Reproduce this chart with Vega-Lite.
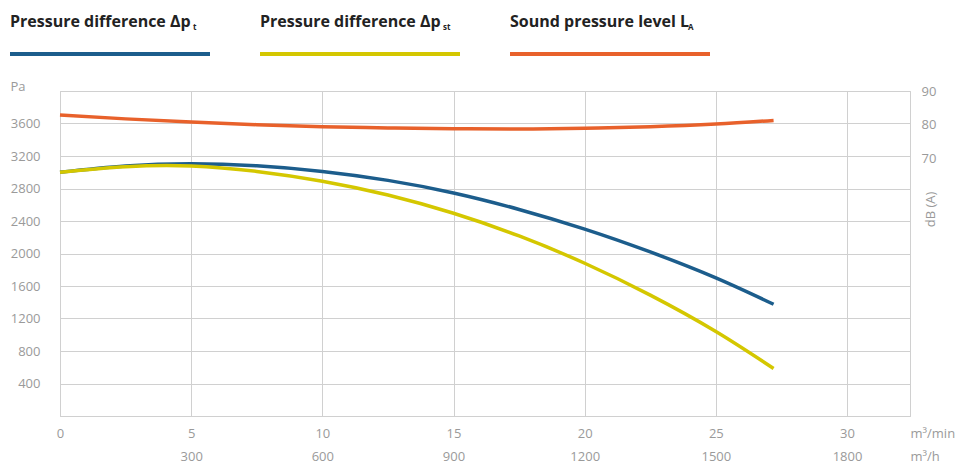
{
  "$schema": "https://vega.github.io/schema/vega-lite/v6.json",
  "width": 850,
  "height": 325,
  "autosize": {"type": "none"},
  "padding": {"left": 60, "top": 91, "right": 46, "bottom": 47},
  "background": "white",
  "config": {
    "font": "Open Sans",
    "view": {"stroke": "#d0d0d0", "strokeWidth": 1},
    "axis": {
      "labelFont": "Open Sans",
      "labelFontSize": 13,
      "labelColor": "#9a9a9a",
      "titleFont": "Open Sans",
      "titleFontSize": 13,
      "titleFontWeight": "normal",
      "titleColor": "#9a9a9a",
      "gridColor": "#d0d0d0",
      "gridWidth": 1,
      "domainColor": "#d0d0d0",
      "ticks": false
    }
  },
  "datasets": {
    "curves": [
      {"q": 0, "pa": 3000, "series": "dpt"},
      {"q": 2.5, "pa": 3077, "series": "dpt"},
      {"q": 5, "pa": 3105, "series": "dpt"},
      {"q": 7.5, "pa": 3079, "series": "dpt"},
      {"q": 10, "pa": 3010, "series": "dpt"},
      {"q": 12.5, "pa": 2900, "series": "dpt"},
      {"q": 15, "pa": 2745, "series": "dpt"},
      {"q": 17.5, "pa": 2542, "series": "dpt"},
      {"q": 20, "pa": 2300, "series": "dpt"},
      {"q": 22.5, "pa": 2019, "series": "dpt"},
      {"q": 25, "pa": 1700, "series": "dpt"},
      {"q": 27.2, "pa": 1375, "series": "dpt"},
      {"q": 0, "pa": 3000, "series": "dpst"},
      {"q": 2.5, "pa": 3068, "series": "dpst"},
      {"q": 5, "pa": 3077, "series": "dpst"},
      {"q": 7.5, "pa": 3010, "series": "dpst"},
      {"q": 10, "pa": 2890, "series": "dpst"},
      {"q": 12.5, "pa": 2720, "series": "dpst"},
      {"q": 15, "pa": 2495, "series": "dpst"},
      {"q": 17.5, "pa": 2216, "series": "dpst"},
      {"q": 20, "pa": 1880, "series": "dpst"},
      {"q": 22.5, "pa": 1488, "series": "dpst"},
      {"q": 25, "pa": 1040, "series": "dpst"},
      {"q": 27.2, "pa": 585, "series": "dpst"}
    ],
    "sound": [
      {"q": 0, "db": 82.94, "series": "la"},
      {"q": 2.5, "db": 81.8, "series": "la"},
      {"q": 5, "db": 80.85, "series": "la"},
      {"q": 7.5, "db": 80.1, "series": "la"},
      {"q": 10, "db": 79.52, "series": "la"},
      {"q": 12.5, "db": 79.12, "series": "la"},
      {"q": 15, "db": 78.9, "series": "la"},
      {"q": 17.5, "db": 78.84, "series": "la"},
      {"q": 20, "db": 79.02, "series": "la"},
      {"q": 22.5, "db": 79.5, "series": "la"},
      {"q": 25, "db": 80.3, "series": "la"},
      {"q": 27.2, "db": 81.35, "series": "la"}
    ],
    "legend": [
      {"series": "dpt", "label": "Pressure difference Δp", "sub": "t"},
      {"series": "dpst", "label": "Pressure difference Δp", "sub": "st"},
      {"series": "la", "label": "Sound pressure level L", "sub": "A"}
    ]
  },
  "layer": [
    {
      "layer": [
        {
          "data": {"name": "curves"},
          "mark": {"type": "line", "interpolate": "natural", "strokeWidth": 3.5, "strokeCap": "butt"},
          "encoding": {
            "x": {
              "field": "q", "type": "quantitative",
              "scale": {"domain": [0, 32.4], "nice": false, "zero": false},
              "axis": {
                "title": null,
                "values": [0, 5, 10, 15, 20, 25, 30, 32.4],
                "grid": true,
                "domain": true,
                "labelFlush": false,
                "labelOverlap": false,
                "labelBound": false,
                "labelPadding": 11,
                "labelLineHeight": 23,
                "labelBaseline": "top",
                "labelAlign": {"condition": {"test": "datum.value > 32", "value": "left"}, "value": "center"},
                "labelExpr": "datum.value > 32 ? ['m³/min', 'm³/h'] : (datum.value == 0 ? ['0', ''] : [datum.label, format(datum.value * 60, 'd')])"
              }
            },
            "y": {
              "field": "pa", "type": "quantitative",
              "scale": {"domain": [0, 4000], "nice": false},
              "axis": {
                "orient": "left",
                "values": [0, 400, 800, 1200, 1600, 2000, 2400, 2800, 3200, 3600, 4000],
                "grid": true,
                "domain": true,
                "format": "d",
                "labelPadding": 20,
                "labelExpr": "(datum.value == 0 || datum.value == 4000) ? '' : datum.label",
                "title": "Pa",
                "titleAngle": 0,
                "titleAlign": "left",
                "titleBaseline": "middle",
                "titleX": -50,
                "titleY": -5
              }
            },
            "color": {
              "field": "series", "type": "nominal",
              "scale": {"domain": ["dpt", "dpst", "la"], "range": ["#1c5d8c", "#d4c700", "#e8612b"]},
              "legend": null
            }
          }
        },
        {
          "data": {"name": "sound"},
          "mark": {"type": "line", "interpolate": "natural", "strokeWidth": 3.5, "strokeCap": "butt"},
          "encoding": {
            "x": {"field": "q", "type": "quantitative"},
            "y": {
              "field": "db", "type": "quantitative",
              "scale": {"domain": [-5.6, 90], "nice": false, "zero": false},
              "axis": {
                "orient": "right",
                "values": [70, 80, 90],
                "grid": false,
                "domain": false,
                "labelPadding": 11,
                "title": "dB (A)",
                "titleAngle": 270,
                "titleAlign": "center",
                "titleBaseline": "middle",
                "titleX": 20,
                "titleY": 118
              }
            },
            "color": {"field": "series", "type": "nominal", "legend": null}
          }
        }
      ],
      "resolve": {"scale": {"y": "independent"}}
    },
    {
      "data": {"name": "legend"},
      "layer": [
        {
          "mark": {"type": "text", "align": "left", "baseline": "alphabetic", "font": "Open Sans", "fontSize": 16, "fontWeight": "bold", "color": "#222222"},
          "encoding": {
            "x": {
              "field": "series", "type": "nominal", "bandPosition": 0,
              "scale": {"type": "band", "domain": ["dpt", "dpst", "la"], "range": [-50, 700], "paddingInner": 0, "paddingOuter": 0},
              "axis": null
            },
            "y": {
              "datum": "label", "type": "nominal",
              "scale": {"type": "point", "domain": ["label", "line"], "range": [-64, -37], "padding": 0},
              "axis": null
            },
            "text": {"field": "label"}
          }
        },
        {
          "transform": [{"filter": "datum.series != 'la'"}],
          "mark": {"type": "text", "align": "left", "baseline": "alphabetic", "font": "Open Sans", "fontSize": 8, "fontWeight": "bold", "color": "#222222", "dx": 183, "dy": 3},
          "encoding": {
            "x": {"field": "series", "type": "nominal", "bandPosition": 0},
            "y": {"datum": "label", "type": "nominal"},
            "text": {"field": "sub"}
          }
        },
        {
          "transform": [{"filter": "datum.series == 'la'"}],
          "mark": {"type": "text", "align": "left", "baseline": "alphabetic", "font": "Open Sans", "fontSize": 8, "fontWeight": "bold", "color": "#222222", "dx": 178, "dy": 3},
          "encoding": {
            "x": {"field": "series", "type": "nominal", "bandPosition": 0},
            "y": {"datum": "label", "type": "nominal"},
            "text": {"field": "sub"}
          }
        },
        {
          "mark": {"type": "rule", "strokeWidth": 4, "strokeCap": "butt"},
          "encoding": {
            "x": {"field": "series", "type": "nominal", "bandPosition": 0},
            "x2": {"field": "series", "bandPosition": 0.8},
            "y": {"datum": "line", "type": "nominal"},
            "color": {"field": "series", "type": "nominal", "legend": null}
          }
        }
      ]
    }
  ],
  "resolve": {"scale": {"x": "independent", "y": "independent"}}
}
